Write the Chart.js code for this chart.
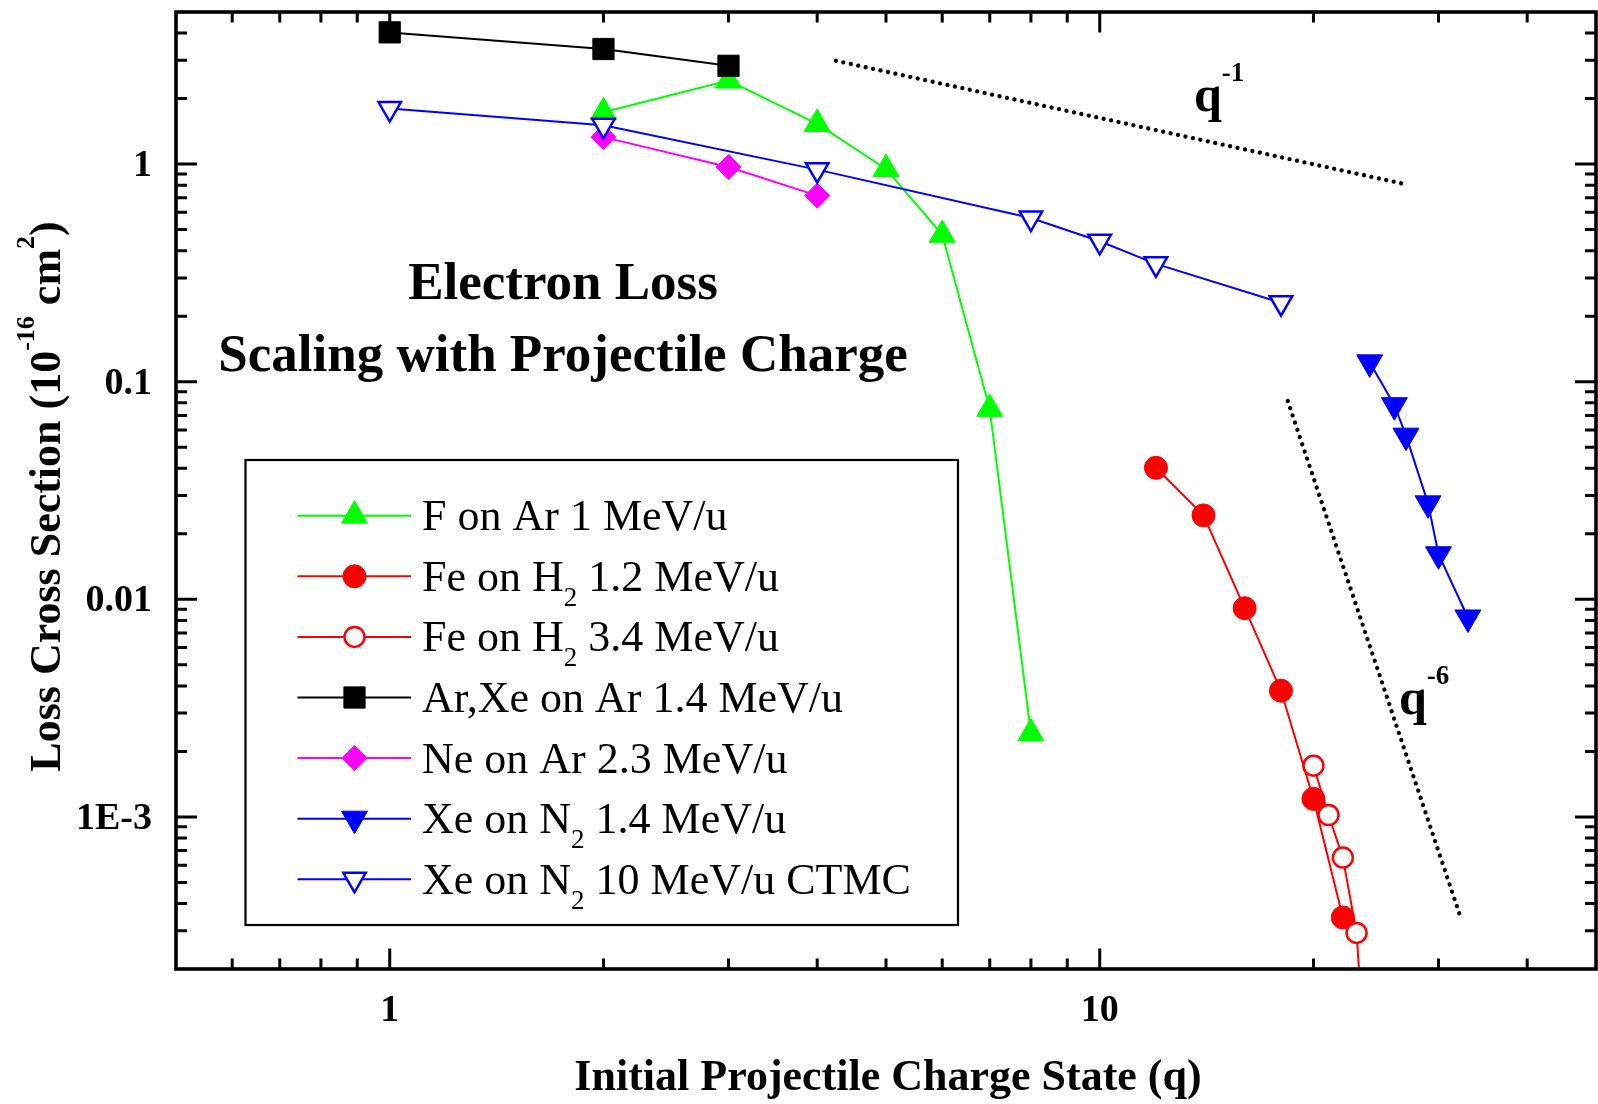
<!DOCTYPE html>
<html>
<head>
<meta charset="utf-8">
<script src="https://cdn.jsdelivr.net/npm/chart.js@4/dist/chart.umd.min.js"></script>
<style>
  html, body { margin: 0; padding: 0; background: #fff; }
  canvas { display: block; }
</style>
</head>
<body>
<canvas id="chart" width="1598" height="1104"></canvas>
<script>
// Initial projectile charge state q and electron-loss cross sections (units of 1e-16 cm^2)
const fOnArQ = [2, 3, 4, 5, 6, 7, 8];
const fOnArSigma = [1.73, 2.42, 1.53, 0.95, 0.473, 0.075, 0.00242];

const feH2LowQ = [12, 14, 16, 18, 20, 22];
const feH2LowSigma = [0.0402, 0.0243, 0.0091, 0.0038, 0.00121, 0.000345];

const feH2HighQ = [20, 21, 22, 23, 24];
const feH2HighSigma = [0.00172, 0.00102, 0.00065, 0.000293, 0.000037];

const arXeQ = [1, 2, 3];
const arXeSigma = [4.03, 3.38, 2.83];

const neArQ = [2, 3, 4];
const neArSigma = [1.33, 0.969, 0.716];

const xeN2Q = [24, 26, 27, 29, 30, 33];
const xeN2Sigma = [0.1227, 0.078, 0.0565, 0.0276, 0.0161, 0.00825];

const xeN2CtmcQ = [1, 2, 4, 8, 10, 12, 18];
const xeN2CtmcSigma = [1.80, 1.508, 0.943, 0.565, 0.442, 0.348, 0.2306];

// Guide lines for the q^-1 and q^-6 trends
const guideQ1X = [4.25, 27.2];
const guideQ1Y = [2.985, 0.803];
const guideQ6X = [18.4, 32.1];
const guideQ6Y = [0.0816, 0.00036];

// Axis tick values and labels
const xLabelValues = [1, 10];
const xLabelTexts = ['1', '10'];
const yLabelValues = [0.001, 0.01, 0.1, 1];
const yLabelTexts = ['1E-3', '0.01', '0.1', '1'];

// Legend entries (text runs; sub marks a subscript)
const legendLabels = [
  [{ t: 'F on Ar 1 MeV/u' }],
  [{ t: 'Fe on H' }, { t: '2', sub: true }, { t: ' 1.2 MeV/u' }],
  [{ t: 'Fe on H' }, { t: '2', sub: true }, { t: ' 3.4 MeV/u' }],
  [{ t: 'Ar,Xe on Ar 1.4 MeV/u' }],
  [{ t: 'Ne on Ar 2.3 MeV/u' }],
  [{ t: 'Xe on N' }, { t: '2', sub: true }, { t: ' 1.4 MeV/u' }],
  [{ t: 'Xe on N' }, { t: '2', sub: true }, { t: ' 10 MeV/u CTMC' }]
];

const pts = (xs, ys) => xs.map((x, i) => ({ x: x, y: ys[i] }));

const SERIF = 'Liberation Serif, "Times New Roman", serif';

const seriesStyles = [
  { color: '#00ff00', fill: '#00ff00', style: 'triangle', rot: 0, r: 15, bw: 1 },
  { color: '#ff0000', fill: '#ff0000', style: 'circle', rot: 0, r: 11.5, bw: 1 },
  { color: '#ff0000', fill: '#ffffff', style: 'circle', rot: 0, r: 10, bw: 2.5 },
  { color: '#000000', fill: '#000000', style: 'rect', rot: 0, r: 15, bw: 1 },
  { color: '#ff00ff', fill: '#ff00ff', style: 'rectRot', rot: 0, r: 12.5, bw: 1 },
  { color: '#0000ff', fill: '#0000ff', style: 'triangle', rot: 180, r: 15, bw: 1 },
  { color: '#0000ff', fill: '#ffffff', style: 'triangle', rot: 180, r: 13, bw: 2.5 }
];

const seriesData = [
  pts(fOnArQ, fOnArSigma),
  pts(feH2LowQ, feH2LowSigma),
  pts(feH2HighQ, feH2HighSigma),
  pts(arXeQ, arXeSigma),
  pts(neArQ, neArSigma),
  pts(xeN2Q, xeN2Sigma),
  pts(xeN2CtmcQ, xeN2CtmcSigma)
];

const datasets = seriesData.map((d, i) => {
  const s = seriesStyles[i];
  return {
    data: d,
    borderColor: s.color,
    borderWidth: 2,
    pointStyle: s.style,
    pointRotation: s.rot,
    pointRadius: s.r,
    pointBackgroundColor: s.fill,
    pointBorderColor: s.color,
    pointBorderWidth: s.bw,
    tension: 0,
    order: 7 - i
  };
});

[[guideQ1X, guideQ1Y], [guideQ6X, guideQ6Y]].forEach(([gx, gy]) => {
  datasets.push({
    data: pts(gx, gy),
    borderColor: '#000',
    borderWidth: 4.3,
    borderDash: [0.01, 7.6],
    borderCapStyle: 'round',
    pointRadius: 0,
    order: 20
  });
});

function labelFor(values, texts, v) {
  for (let i = 0; i < values.length; i++) {
    if (Math.abs(Math.log10(v) - Math.log10(values[i])) < 1e-6) return texts[i];
  }
  return '';
}

// Minor tick values (2..9 times each power of ten) inside a range
function logMinors(lo, hi) {
  const out = [];
  for (let e = Math.floor(Math.log10(lo)); e <= Math.ceil(Math.log10(hi)); e++) {
    for (let m = 2; m <= 9; m++) {
      const v = m * Math.pow(10, e);
      if (v > lo * 1.0001 && v < hi * 0.9999) out.push(v);
    }
  }
  return out;
}

// Inward tick marks on all four sides plus the heavy frame
const frameAndTicks = {
  id: 'frameAndTicks',
  afterDatasetsDraw(chart) {
    const { ctx, chartArea: a, scales: { x, y } } = chart;
    ctx.save();
    ctx.strokeStyle = '#000';
    ctx.lineCap = 'butt';
    ctx.lineWidth = 3;
    const tick = (v, len, horizontal) => {
      ctx.beginPath();
      if (horizontal) {
        const px = x.getPixelForValue(v);
        ctx.moveTo(px, a.bottom); ctx.lineTo(px, a.bottom - len);
        ctx.moveTo(px, a.top); ctx.lineTo(px, a.top + len);
      } else {
        const py = y.getPixelForValue(v);
        ctx.moveTo(a.left, py); ctx.lineTo(a.left + len, py);
        ctx.moveTo(a.right, py); ctx.lineTo(a.right - len, py);
      }
      ctx.stroke();
    };
    logMinors(x.min, x.max).forEach(v => tick(v, 10.5, true));
    xLabelValues.forEach(v => tick(v, 20.5, true));
    logMinors(y.min, y.max).forEach(v => tick(v, 11, false));
    yLabelValues.forEach(v => tick(v, 21, false));
    ctx.lineWidth = 3.6;
    ctx.strokeRect(a.left, a.top, a.right - a.left, a.bottom - a.top);
    ctx.restore();
  }
};

function runFont(p, base) {
  const size = (p.sup || p.sub) ? base.small : base.size;
  return base.weight + ' ' + size + 'px ' + SERIF;
}
function runShift(p, base) {
  if (p.sup) return -base.supRaise;
  if (p.sub) return base.subDrop;
  return 0;
}
function drawRich(ctx, parts, x, y, base, align) {
  let w = 0;
  parts.forEach(p => { ctx.font = runFont(p, base); w += ctx.measureText(p.t).width; });
  let cx = align === 'center' ? x - w / 2 : x;
  ctx.textAlign = 'left';
  ctx.textBaseline = 'alphabetic';
  parts.forEach(p => {
    ctx.font = runFont(p, base);
    ctx.fillText(p.t, cx, y + runShift(p, base));
    cx += ctx.measureText(p.t).width;
  });
}

function drawMarker(ctx, s, cx, cy) {
  ctx.save();
  ctx.fillStyle = s.fill;
  ctx.strokeStyle = s.color;
  ctx.lineWidth = s.bw;
  ctx.beginPath();
  const r = s.r;
  if (s.style === 'circle') {
    ctx.arc(cx, cy, r, 0, Math.PI * 2);
  } else if (s.style === 'rect') {
    const h = Math.SQRT1_2 * r;
    ctx.rect(cx - h, cy - h, 2 * h, 2 * h);
  } else if (s.style === 'rectRot') {
    ctx.moveTo(cx - r, cy); ctx.lineTo(cx, cy - r); ctx.lineTo(cx + r, cy); ctx.lineTo(cx, cy + r);
    ctx.closePath();
  } else {
    let rad = s.rot * Math.PI / 180;
    for (let k = 0; k < 3; k++) {
      const px = cx + Math.sin(rad) * r, py = cy - Math.cos(rad) * r;
      if (k === 0) ctx.moveTo(px, py); else ctx.lineTo(px, py);
      rad += 2 * Math.PI / 3;
    }
    ctx.closePath();
  }
  ctx.fill();
  ctx.stroke();
  ctx.restore();
}

const annotations = {
  id: 'annotations',
  afterDraw(chart) {
    const { ctx, chartArea: a } = chart;
    ctx.save();
    ctx.fillStyle = '#000';

    // Plot headline
    const head = { size: 53, small: 32, weight: 'bold', supRaise: 0, subDrop: 0 };
    drawRich(ctx, [{ t: 'Electron Loss' }], 563, 299, head, 'center');
    drawRich(ctx, [{ t: 'Scaling with Projectile Charge' }], 563, 371, head, 'center');

    // Trend labels
    const qf = { size: 50, small: 27, weight: 'bold', supRaise: 30, subDrop: 0 };
    drawRich(ctx, [{ t: 'q' }, { t: '-1', sup: true }], 1194, 111, qf, 'left');
    drawRich(ctx, [{ t: 'q' }, { t: '-6', sup: true }], 1399, 714, qf, 'left');

    // Axis titles
    const at = { size: 44, small: 26, weight: 'bold', supRaise: 26, subDrop: 0 };
    drawRich(ctx, [{ t: 'Initial Projectile Charge State (q)' }], (a.left + a.right) / 2 + 2, 1090, at, 'center');
    ctx.save();
    ctx.translate(60, (a.top + a.bottom) / 2 + 6);
    ctx.rotate(-Math.PI / 2);
    drawRich(ctx, [
      { t: 'Loss Cross Section (10' }, { t: '-16', sup: true },
      { t: ' cm' }, { t: '2', sup: true }, { t: ')' }
    ], 0, 0, at, 'center');
    ctx.restore();

    // Legend box
    const box = { l: 245.5, t: 460, r: 958, b: 925 };
    ctx.fillStyle = '#fff';
    ctx.fillRect(box.l, box.t, box.r - box.l, box.b - box.t);
    ctx.strokeStyle = '#000';
    ctx.lineWidth = 2.2;
    ctx.strokeRect(box.l, box.t, box.r - box.l, box.b - box.t);
    const lf = { size: 44, small: 27, weight: 'normal', supRaise: 0, subDrop: 15 };
    legendLabels.forEach((parts, i) => {
      const ry = 515.7 + i * 60.6;
      const s = seriesStyles[i];
      ctx.strokeStyle = s.color;
      ctx.lineWidth = 2;
      ctx.beginPath();
      ctx.moveTo(297.5, ry); ctx.lineTo(411, ry);
      ctx.stroke();
      drawMarker(ctx, s, 354.5, ry);
      ctx.fillStyle = '#000';
      drawRich(ctx, parts, 422, ry + 14.5, lf, 'left');
    });
    ctx.restore();
  }
};

// Drop the edge padding Chart.js reserves for tick labels so the frame fills the canvas
function fixBox(size) {
  return s => {
    if (s.isHorizontal()) s.height = size; else s.width = size;
    s.paddingTop = 0; s.paddingBottom = 0; s.paddingLeft = 0; s.paddingRight = 0;
  };
}

new Chart(document.getElementById('chart').getContext('2d'), {
  type: 'line',
  data: { datasets: datasets },
  plugins: [frameAndTicks, annotations],
  options: {
    responsive: false,
    animation: false,
    devicePixelRatio: 1,
    layout: { autoPadding: false, padding: { top: 12, right: 2, left: 0, bottom: 0 } },
    plugins: { legend: { display: false }, tooltip: { enabled: false } },
    elements: { line: { fill: false } },
    scales: {
      x: {
        type: 'logarithmic',
        min: 0.5,
        max: 50,
        grid: { display: false, drawTicks: false },
        border: { display: false },
        afterBuildTicks: s => { s.ticks = xLabelValues.map(v => ({ value: v })); },
        afterFit: fixBox(135),
        ticks: {
          autoSkip: false,
          maxRotation: 0,
          minRotation: 0,
          padding: 19,
          color: '#000',
          font: { family: SERIF, size: 38, weight: 'bold' },
          callback: v => labelFor(xLabelValues, xLabelTexts, v)
        }
      },
      y: {
        type: 'logarithmic',
        min: 0.0002,
        max: 5,
        grid: { display: false, drawTicks: false },
        border: { display: false },
        afterBuildTicks: s => { s.ticks = yLabelValues.map(v => ({ value: v })); },
        afterFit: fixBox(176),
        ticks: {
          autoSkip: false,
          padding: 24,
          labelOffset: 2,
          color: '#000',
          font: { family: SERIF, size: 38, weight: 'bold' },
          callback: v => labelFor(yLabelValues, yLabelTexts, v)
        }
      }
    }
  }
});
</script>
</body>
</html>
